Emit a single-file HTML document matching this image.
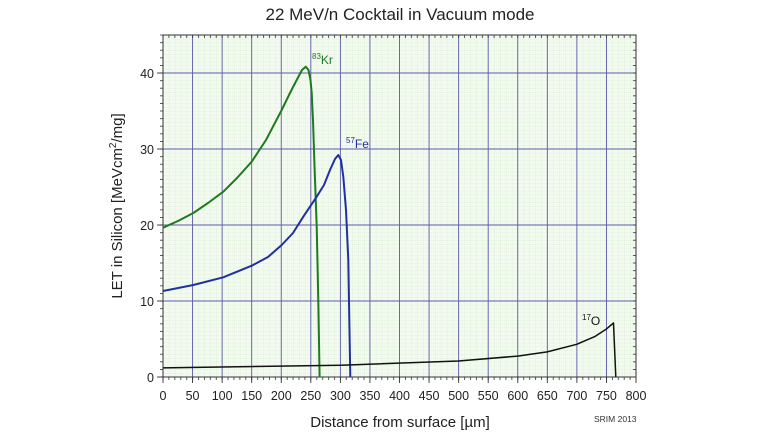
<!DOCTYPE html>
<html><head><meta charset="utf-8"><style>
html,body{margin:0;padding:0;background:#fff;}
svg{display:block;font-family:"Liberation Sans",Arial,sans-serif;}
</style></head><body>
<svg width="768" height="432" viewBox="0 0 768 432" xmlns="http://www.w3.org/2000/svg">
<defs>
<pattern id="mg" x="163" y="35" width="5.9125" height="3.8" patternUnits="userSpaceOnUse">
<rect width="5.9125" height="3.8" fill="#f3faf0"/>
<line x1="0" y1="0" x2="0" y2="3.8" stroke="#c4e2bc" stroke-width="0.8" stroke-dasharray="1 1"/>
<line x1="0" y1="0" x2="5.9125" y2="0" stroke="#c4e2bc" stroke-width="0.8" stroke-dasharray="1 1"/>
</pattern>
<pattern id="tx" x="162.6" y="0" width="5.9125" height="10" patternUnits="userSpaceOnUse">
<rect x="0" y="0" width="0.8" height="10" fill="#333"/>
</pattern>
<pattern id="ty" x="0" y="34.6" width="10" height="7.6" patternUnits="userSpaceOnUse">
<rect x="0" y="0" width="10" height="0.8" fill="#333"/>
</pattern>
</defs>
<text x="400" y="20" font-size="17" text-anchor="middle" fill="#222">22 MeV/n Cocktail in Vacuum mode</text>
<rect x="163" y="35" width="473" height="342" fill="url(#mg)"/>
<g stroke="#5a5aa8" stroke-width="0.9">
<line x1="192.56" y1="35" x2="192.56" y2="377"/><line x1="222.13" y1="35" x2="222.13" y2="377"/>
<line x1="251.69" y1="35" x2="251.69" y2="377"/><line x1="281.25" y1="35" x2="281.25" y2="377"/>
<line x1="310.81" y1="35" x2="310.81" y2="377"/><line x1="340.38" y1="35" x2="340.38" y2="377"/>
<line x1="369.94" y1="35" x2="369.94" y2="377"/><line x1="399.5" y1="35" x2="399.5" y2="377"/>
<line x1="429.06" y1="35" x2="429.06" y2="377"/><line x1="458.63" y1="35" x2="458.63" y2="377"/>
<line x1="488.19" y1="35" x2="488.19" y2="377"/><line x1="517.75" y1="35" x2="517.75" y2="377"/>
<line x1="547.31" y1="35" x2="547.31" y2="377"/><line x1="576.88" y1="35" x2="576.88" y2="377"/>
<line x1="606.44" y1="35" x2="606.44" y2="377"/>
<line x1="163" y1="301" x2="636" y2="301"/><line x1="163" y1="225" x2="636" y2="225"/>
<line x1="163" y1="149" x2="636" y2="149"/><line x1="163" y1="73" x2="636" y2="73"/>
</g>
<rect x="162.6" y="377" width="474" height="3" fill="url(#tx)"/>
<rect x="162.6" y="35" width="474" height="3" fill="url(#tx)"/>
<rect x="160" y="34.6" width="3" height="343" fill="url(#ty)"/>
<rect x="633" y="34.6" width="3" height="343" fill="url(#ty)"/>
<g stroke="#333" stroke-width="0.9">
<line x1="163" y1="377" x2="163" y2="383"/><line x1="192.56" y1="377" x2="192.56" y2="383"/><line x1="222.13" y1="377" x2="222.13" y2="383"/>
<line x1="251.69" y1="377" x2="251.69" y2="383"/><line x1="281.25" y1="377" x2="281.25" y2="383"/><line x1="310.81" y1="377" x2="310.81" y2="383"/>
<line x1="340.38" y1="377" x2="340.38" y2="383"/><line x1="369.94" y1="377" x2="369.94" y2="383"/><line x1="399.5" y1="377" x2="399.5" y2="383"/>
<line x1="429.06" y1="377" x2="429.06" y2="383"/><line x1="458.63" y1="377" x2="458.63" y2="383"/><line x1="488.19" y1="377" x2="488.19" y2="383"/>
<line x1="517.75" y1="377" x2="517.75" y2="383"/><line x1="547.31" y1="377" x2="547.31" y2="383"/><line x1="576.88" y1="377" x2="576.88" y2="383"/>
<line x1="606.44" y1="377" x2="606.44" y2="383"/><line x1="636" y1="377" x2="636" y2="383"/>
<line x1="157" y1="377" x2="163" y2="377"/><line x1="157" y1="301" x2="163" y2="301"/><line x1="157" y1="225" x2="163" y2="225"/>
<line x1="157" y1="149" x2="163" y2="149"/><line x1="157" y1="73" x2="163" y2="73"/>
</g>
<rect x="163" y="35" width="473" height="342" fill="none" stroke="#333" stroke-width="1"/>
<polyline fill="none" stroke="#1e7a1e" stroke-width="2" stroke-linejoin="round" points="163,227.7 178,221 193.3,213 208,203 223.3,191.7 237,178 251.7,161.7 266,140 281.7,110 290,93 296.7,80 302,70 305.7,66.7 308.5,70 310.5,80 311.7,93 313,120 314.3,160 316.7,226.7 318.3,300 319.6,377"/>
<polyline fill="none" stroke="#2030a0" stroke-width="2" stroke-linejoin="round" points="163,291 193.3,285 223.3,277.3 251.7,265.7 268,257 281.7,245 293,233 303.3,216.7 316.7,196.7 324,185 330,170 335,159 338.3,155 341,160 343.3,176.7 346,210 348.3,260 349.3,320 350.3,377"/>
<polyline fill="none" stroke="#111" stroke-width="1.5" stroke-linejoin="round" points="163,367.9 340.4,365.2 458.5,361 517.6,356.1 547.2,351.9 576.7,344.3 594.5,336.7 606.3,329.1 613.5,323 615.8,377"/>
<text x="312" y="64" font-size="12" fill="#1e7a1e"><tspan font-size="8" dy="-5">83</tspan><tspan dy="5">Kr</tspan></text>
<text x="346" y="148" font-size="12" fill="#2030a0"><tspan font-size="8" dy="-5">57</tspan><tspan dy="5">Fe</tspan></text>
<text x="582" y="325" font-size="12" fill="#111"><tspan font-size="8" dy="-5">17</tspan><tspan dy="5">O</tspan></text>
<g font-size="12.5" fill="#222" text-anchor="middle">
<text x="163" y="400">0</text><text x="192.56" y="400">50</text><text x="222.13" y="400">100</text>
<text x="251.69" y="400">150</text><text x="281.25" y="400">200</text><text x="310.81" y="400">250</text>
<text x="340.38" y="400">300</text><text x="369.94" y="400">350</text><text x="399.5" y="400">400</text>
<text x="429.06" y="400">450</text><text x="458.63" y="400">500</text><text x="488.19" y="400">550</text>
<text x="517.75" y="400">600</text><text x="547.31" y="400">650</text><text x="576.88" y="400">700</text>
<text x="606.44" y="400">750</text><text x="636" y="400">800</text>
</g>
<g font-size="12.5" fill="#222" text-anchor="end">
<text x="154" y="382">0</text><text x="154" y="306">10</text><text x="154" y="230">20</text><text x="154" y="154">30</text><text x="154" y="78">40</text>
</g>
<text x="400" y="427" font-size="15" text-anchor="middle" fill="#222">Distance from surface [µm]</text>
<text transform="translate(122,206) rotate(-90)" font-size="15" text-anchor="middle" fill="#222">LET in Silicon [MeVcm<tspan font-size="10" dy="-6">2</tspan><tspan dy="6">/mg]</tspan></text>
<text x="594" y="422" font-size="8.5" fill="#333">SRIM 2013</text>
</svg>
</body></html>
